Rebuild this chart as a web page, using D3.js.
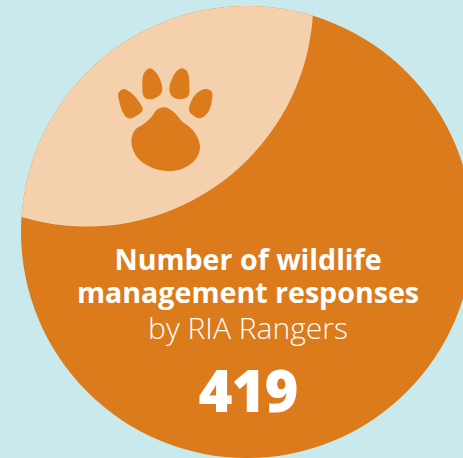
<!DOCTYPE html>
<html>
<head>
<meta charset="utf-8">
<script src="https://cdn.jsdelivr.net/npm/d3@7/dist/d3.min.js"></script>
<style>
html,body{margin:0;padding:0;background:#c9e9ec;}
svg{display:block;}
text{font-family:"Open Sans",Lato,sans-serif;fill:#fff;text-anchor:middle;}
</style>
</head>
<body>
<svg id="chart" width="463" height="458"></svg>
<script>
// Headline figure and its caption
const titleLines = ["Number of wildlife", "management responses"];
const subtitle = "by RIA Rangers";
const responses = [419];

// Paw glyph outlines, in glyph units
const pawToes = [
  [[55,100],[70,87],[95,100],[120,130],[128,150],[105,170],[85,175],[70,160],[58,125]],
  [[127,80],[132,40],[150,25],[170,40],[187,85],[180,105],[150,118],[132,110]],
  [[208,85],[225,40],[245,25],[262,35],[268,80],[265,108],[240,118],[215,108]],
  [[267,148],[285,105],[315,87],[335,95],[335,125],[322,160],[300,175],[275,163]]
];
const pawPad = [[195,142],[225,160],[245,183],[280,212],[300,260],[285,300],[245,327],[200,333],[150,320],[110,290],[94,245],[105,210],[130,193],[155,170],[172,148]];

const colors = {orange:"#dc7b1c", tint:"#f4d0ac"};
const svg = d3.select("#chart");

// Main disc and the tinted lens cut from it by a second circle
const disc = {x:247, y:232, r:226};
const overlay = {x:87, y:0, r:226.5};

const fullCircle = d3.arc().innerRadius(0).startAngle(0).endAngle(2*Math.PI);

svg.append("defs").append("clipPath").attr("id","discClip")
  .append("path")
  .attr("transform",`translate(${disc.x},${disc.y})`)
  .attr("d",fullCircle({outerRadius:disc.r}));

svg.append("path")
  .attr("transform",`translate(${disc.x},${disc.y})`)
  .attr("d",fullCircle({outerRadius:disc.r}))
  .attr("fill",colors.orange);

svg.append("g").attr("clip-path","url(#discClip)")
  .append("path")
  .attr("transform",`translate(${overlay.x},${overlay.y})`)
  .attr("d",fullCircle({outerRadius:overlay.r}))
  .attr("fill",colors.tint);

// Paw icon
const pawX = d3.scaleLinear().domain([0,390]).range([100,230]);
const pawY = d3.scaleLinear().domain([0,360]).range([60,180]);
const outline = d3.line().x(d=>pawX(d[0])).y(d=>pawY(d[1])).curve(d3.curveCatmullRomClosed.alpha(0.5));

svg.append("g").selectAll("path")
  .data([...pawToes, pawPad])
  .join("path")
  .attr("d",outline)
  .attr("fill",colors.orange);

// Caption block: the two bold lines share one text element
const cx = 248;
svg.append("text")
  .attr("font-size",28.6)
  .attr("font-weight",700)
  .selectAll("tspan")
  .data(titleLines)
  .join("tspan")
  .attr("x",cx)
  .attr("y",(d,i)=>270+i*33)
  .text(d=>d);

svg.append("text")
  .attr("x",cx).attr("y",339)
  .attr("font-size",30).attr("font-weight",300)
  .text(subtitle);

svg.append("text")
  .attr("x",cx).attr("y",412)
  .attr("font-size",58).attr("font-weight",800)
  .attr("letter-spacing",-1)
  .text(responses[0]);
</script>
</body>
</html>
